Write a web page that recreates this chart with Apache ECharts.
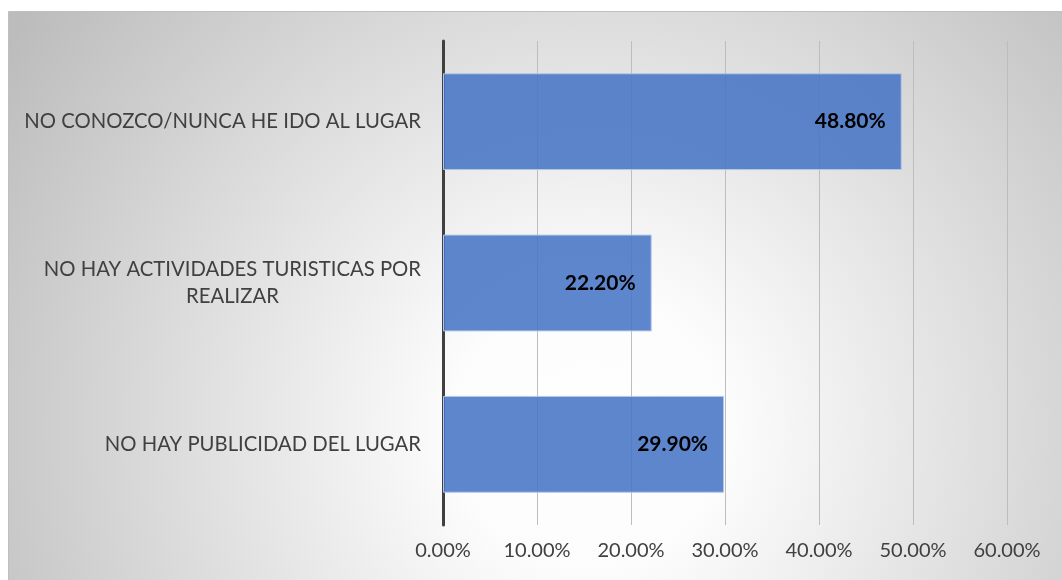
<!DOCTYPE html>
<html>
<head>
<meta charset="utf-8">
<script src="https://cdn.jsdelivr.net/npm/echarts@6/dist/echarts.min.js"></script>
<style>html,body{margin:0;padding:0;background:#fff}#c{width:1062px;height:580px}</style>
</head>
<body>
<div id="c"></div>
<script>
const categories = ['NO HAY PUBLICIDAD DEL LUGAR', 'NO HAY ACTIVIDADES TURISTICAS POR\nREALIZAR', 'NO CONOZCO/NUNCA HE IDO AL LUGAR'];
const values = [29.9, 22.2, 48.8];
const xTicks = [0, 10, 20, 30, 40, 50, 60];

const chart = echarts.init(document.getElementById('c'));
chart.setOption({
  backgroundColor: '#ffffff',
  animation: false,
  graphic: [{
    type: 'rect', z: -10, silent: true,
    shape: {x: 8.5, y: 11.5, width: 1060, height: 572},
    style: {
      fill: new echarts.graphic.RadialGradient(590, 430, 700, [
        {offset: 0, color: '#ffffff'},
        {offset: 0.2, color: '#fcfcfc'},
        {offset: 1, color: '#bcbcbc'}
      ], true),
      stroke: '#bfbfbf', lineWidth: 1
    }
  }],
  grid: {left: 443, right: 55, top: 41, bottom: 55, containLabel: false},
  xAxis: {
    type: 'value', min: xTicks[0], max: xTicks[xTicks.length - 1], interval: 10,
    axisLine: {show: false}, axisTick: {show: false},
    splitLine: {show: true, lineStyle: {color: '#bdbdbd', width: 1}},
    axisLabel: {
      margin: 16, color: '#404040', fontSize: 20, fontFamily: 'Lato',
      formatter: v => v.toFixed(2) + '%'
    }
  },
  yAxis: {
    type: 'category', data: categories,
    axisLine: {show: true, lineStyle: {color: '#404040', width: 3}},
    axisTick: {show: false},
    axisLabel: {
      margin: 22, color: '#404040', fontSize: 20.3, fontFamily: 'Lato',
      formatter: v => '{a|' + v.split('\n').join('}\n{a|') + '}',
      rich: {a: {align: 'center', fontSize: 20.3, fontFamily: 'Lato', color: '#404040', lineHeight: 27}}
    }
  },
  series: [{
    type: 'bar', data: values, barWidth: '60%',
    itemStyle: {color: 'rgba(70,116,198,0.87)', borderColor: '#b4c7e7', borderWidth: 1},
    label: {
      show: true, position: 'insideRight', distance: 16,
      color: '#000', fontWeight: 'bold', fontSize: 21, fontFamily: 'Lato',
      formatter: p => p.value.toFixed(2) + '%'
    }
  }]
});
</script>
</body>
</html>
